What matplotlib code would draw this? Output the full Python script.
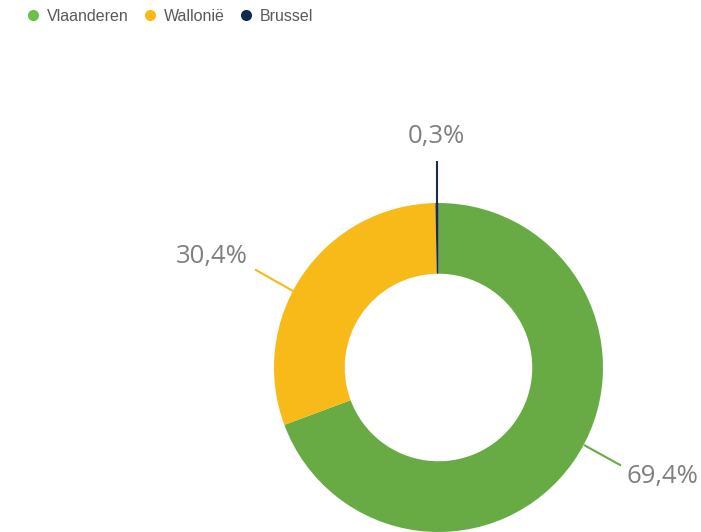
import numpy as np
import matplotlib
matplotlib.use("Agg")
import matplotlib.pyplot as plt
from matplotlib.lines import Line2D

# data
regions = ["Vlaanderen", "Wallonië", "Brussel"]
shares = [69.4, 30.4, 0.3]
share_labels = ["69,4%", "30,4%", "0,3%"]

# colours
wedge_colors = ["#68AB44", "#F8BA18", "#1C2B4D"]
legend_colors = ["#6CC04A", "#FDB913", "#0E2A52"]

W, H = 701, 532
fig = plt.figure(figsize=(W / 100, H / 100), dpi=100)
ax = fig.add_axes([0, 0, 1, 1])

# donut geometry (pixels, y measured from bottom)
cx, cy = 438.5, H - 367.5
r_out = 164.5
ring = 0.43 * r_out

ax.pie(shares, colors=wedge_colors, startangle=90, counterclock=False,
       center=(cx, cy), radius=r_out, frame=True,
       wedgeprops=dict(width=ring, linewidth=0))

ax.set_xlim(0, W)
ax.set_ylim(0, H)
ax.set_aspect("equal")
ax.axis("off")

# label layout: text centre, leader start, leader end (image pixels)
label_pos = [(662, 476), (211.5, 256), (436.5, 137)]
leader_from = [(584, 445), (293, 291), (437, 203)]
leader_to = [(621, 465.5), (255, 269.5), (437, 160.5)]

for i in range(len(shares)):
    (x0, y0), (x1, y1) = leader_from[i], leader_to[i]
    ax.plot([x0, x1], [H - y0, H - y1], color=wedge_colors[i],
            lw=1.5, solid_capstyle="butt")
    tx, ty = label_pos[i]
    ax.text(tx, H - ty, share_labels[i], ha="center", va="center",
            fontsize=18.5, color="#808080", family="Open Sans")

handles = [Line2D([], [], ls="none", marker="o", markersize=8,
                  markerfacecolor=c, markeredgewidth=0) for c in legend_colors]
ax.legend(handles, regions, loc="upper left",
          bbox_to_anchor=(27 / W, 1 - 9 / H), ncol=3, frameon=False,
          borderaxespad=0, borderpad=0, handlelength=0.8,
          handletextpad=0.45, columnspacing=0.95,
          prop={"family": "Liberation Sans", "size": 11.5},
          labelcolor="#595959")

fig.savefig("out.png", dpi=100)
